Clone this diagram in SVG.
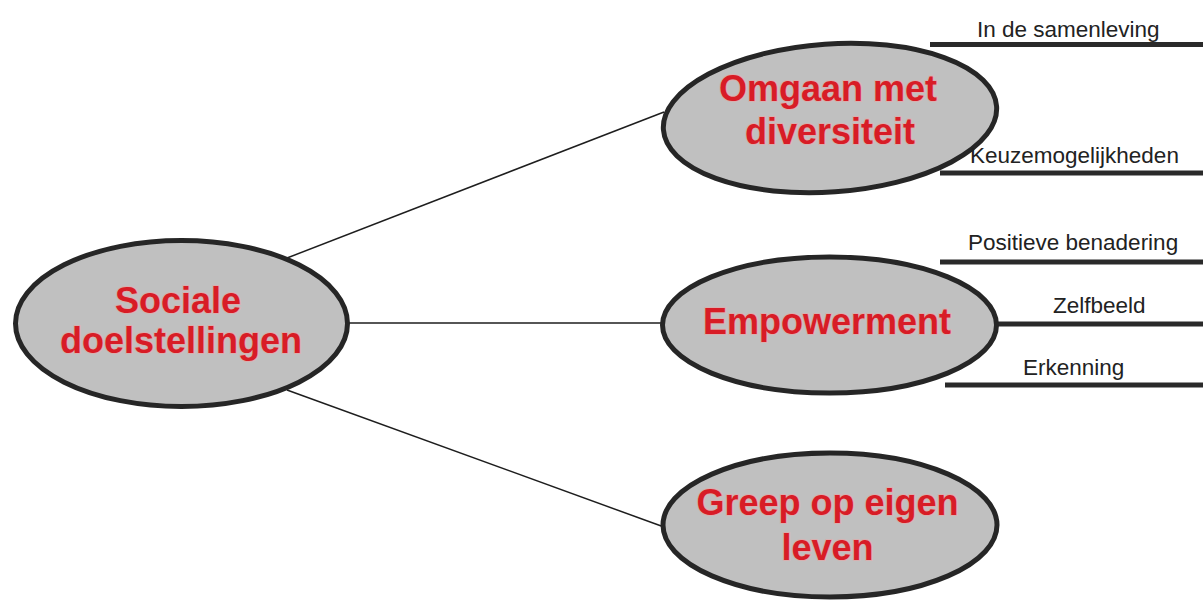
<svg xmlns="http://www.w3.org/2000/svg" width="1203" height="602" viewBox="0 0 1203 602">
  <style>
    .node ellipse { fill: #c0c0c0; stroke: #262626; stroke-width: 5; }
    .title { font-family: "Liberation Sans", Arial, sans-serif; font-weight: bold; font-size: 36px; fill: #d81c26; text-anchor: middle; stroke: #f0a0a0; stroke-width: 2; stroke-opacity: 0.55; paint-order: stroke; }
    .link { stroke: #1e1e1e; stroke-width: 1.5; fill: none; }
    .branch { stroke: #2a2a2a; stroke-width: 5; fill: none; }
    .sub { font-family: "Liberation Sans", Arial, sans-serif; font-size: 22.5px; fill: #222222; }
  </style>
  <rect width="1203" height="602" fill="#ffffff"/>

  <!-- connectors -->
  <g id="connectors">
    <line class="link" x1="287" y1="258" x2="664" y2="112"/>
    <line class="link" x1="347" y1="323" x2="663" y2="323"/>
    <line class="link" x1="287" y1="390" x2="664" y2="527"/>
    <line class="branch" x1="930" y1="44.5" x2="1203" y2="44.5"/>
    <line class="branch" x1="940" y1="173" x2="1203" y2="173"/>
    <line class="branch" x1="940" y1="262" x2="1203" y2="262"/>
    <line class="branch" x1="990" y1="324" x2="1203" y2="324"/>
    <line class="branch" x1="945" y1="385" x2="1203" y2="385"/>
  </g>

  <g id="sociale" class="node">
    <ellipse cx="181.5" cy="323.5" rx="166" ry="83"/>
    <text class="title" x="178" y="313" font-size="35">Sociale</text>
    <text class="title" x="181" y="353" font-size="35">doelstellingen</text>
  </g>

  <g id="omgaan" class="node">
    <ellipse cx="830" cy="118" rx="167" ry="74" transform="rotate(-4 830 118)"/>
    <text class="title" x="828" y="101">Omgaan met</text>
    <text class="title" x="830" y="144">diversiteit</text>
  </g>

  <g id="empowerment" class="node">
    <ellipse cx="829.5" cy="325" rx="167" ry="68"/>
    <text class="title" x="827" y="334">Empowerment</text>
  </g>

  <g id="greep" class="node">
    <ellipse cx="830" cy="525" rx="167" ry="72"/>
    <text class="title" x="827.5" y="515">Greep op eigen</text>
    <text class="title" x="827.5" y="560">leven</text>
  </g>

  <!-- branch labels -->
  <g id="labels">
    <text class="sub" x="977" y="37">In de samenleving</text>
    <text class="sub" x="970" y="163">Keuzemogelijkheden</text>
    <text class="sub" x="968" y="250">Positieve benadering</text>
    <text class="sub" x="1053" y="313">Zelfbeeld</text>
    <text class="sub" x="1023" y="375">Erkenning</text>
  </g>
</svg>
